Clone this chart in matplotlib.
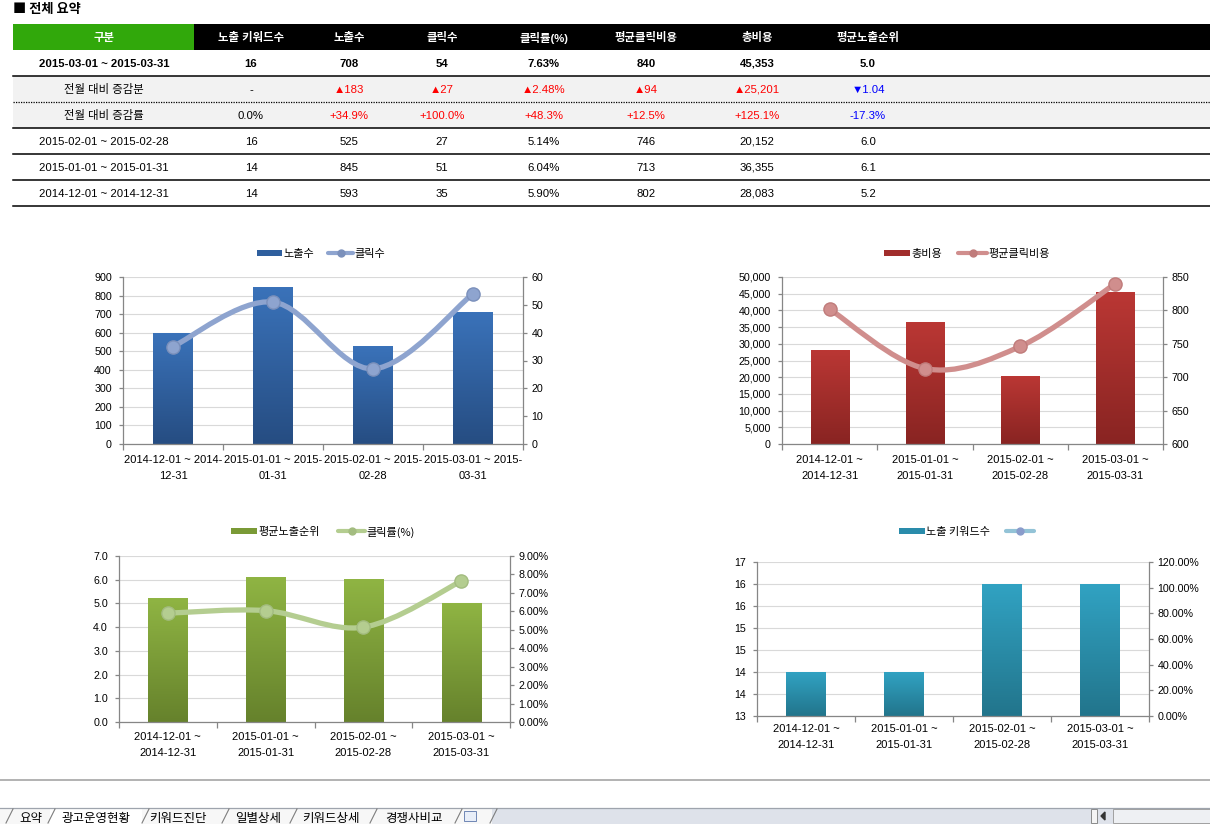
import numpy as np
import matplotlib
matplotlib.use('Agg')
import matplotlib.pyplot as plt
from matplotlib.patches import Rectangle, PathPatch, Polygon
from matplotlib.lines import Line2D
from matplotlib.path import Path
from matplotlib.colors import LinearSegmentedColormap
from matplotlib.ticker import FuncFormatter, MultipleLocator

W, H = 1210, 824
FONTS = ['Liberation Sans', 'Noto Sans CJK KR', 'DejaVu Sans']
plt.rcParams['font.family'] = FONTS

# data (chronological)
periods = ['2014-12-01 ~ 2014-12-31', '2015-01-01 ~ 2015-01-31',
           '2015-02-01 ~ 2015-02-28', '2015-03-01 ~ 2015-03-31']
keywords = [14, 14, 16, 16]
impressions = [593, 845, 525, 708]
clicks = [35, 51, 27, 54]
ctr = [5.90, 6.04, 5.14, 7.63]
cpc = [802, 713, 746, 840]
cost = [28083, 36355, 20152, 45353]
avg_rank = [5.2, 6.1, 6.0, 5.0]

headers = ['구분', '노출 키워드수', '노출수', '클릭수', '클릭률(%)', '평균클릭비용', '총비용', '평균노출순위']
diff_labels = ['-', '▲183', '▲27', '▲2.48%', '▲94', '▲25,201', '▼1.04']
rate_labels = ['0.0%', '+34.9%', '+100.0%', '+48.3%', '+12.5%', '+125.1%', '-17.3%']
diff_colors = ['black', 'red', 'red', 'red', 'red', 'red', 'blue']
sheet_tabs = ['요약', '광고운영현황', '키워드진단', '일별상세', '키워드상세', '경쟁사비교']

fig = plt.figure(figsize=(W / 100, H / 100), dpi=100)


def fx(x):
    return x / W


def fy(y):
    return 1 - y / H


def box(x0, y0, x1, y1, color, ec='none', lw=0.75):
    fig.add_artist(Rectangle((fx(x0), fy(y1)), fx(x1) - fx(x0), fy(y0) - fy(y1),
                             transform=fig.transFigure, facecolor=color, edgecolor=ec, lw=lw))


def hline(y, x0, x1, color, lw=0.75, ls='-'):
    fig.add_artist(Line2D([fx(x0), fx(x1)], [fy(y), fy(y)], transform=fig.transFigure,
                          color=color, lw=lw, ls=ls))


def txt(x, y, s, **kw):
    fig.text(fx(x), fy(y), s, va='center_baseline', **kw)


# ---------------- summary table ----------------
txt(13, 8, '■ 전체 요약', fontsize=9.5, fontweight='bold', family=['Noto Sans CJK KR', 'DejaVu Sans'])
box(13, 24, 1210, 50, 'black')
box(13, 24, 194, 50, '#31a80b')
col_x = [104, 251, 349, 442, 544, 646, 757, 868]
for x, h in zip(col_x, headers):
    txt(x, 37, h, ha='center', color='white', fontweight='bold', fontsize=8.2)


def row_values(i):
    return [periods[i], f'{keywords[i]}', f'{impressions[i]:,}', f'{clicks[i]}',
            f'{ctr[i]:.2f}%', f'{cpc[i]:,}', f'{cost[i]:,}', f'{avg_rank[i]:.1f}']


box(13, 76, 1210, 128, '#f2f2f2')
for x, v in zip(col_x, row_values(3)):
    txt(x, 63, v, ha='center', fontweight='bold', fontsize=8.2)
txt(col_x[0], 89, '전월 대비 증감분', ha='center', fontsize=8.2)
txt(col_x[0], 115, '전월 대비 증감률', ha='center', fontsize=8.2)
for x, v, c in zip(col_x[1:], diff_labels, diff_colors):
    txt(x, 89, v, ha='center', fontsize=8.2, color=c)
for x, v, c in zip(col_x[1:], rate_labels, diff_colors):
    txt(x, 115, v, ha='center', fontsize=8.2, color=c)
for y, i in zip([141, 167, 193], [2, 1, 0]):
    for x, v in zip(col_x, row_values(i)):
        txt(x, y, v, ha='center', fontsize=8.2)
for y in [76, 128, 154, 180, 206]:
    hline(y, 13, 1210, 'black', lw=1.1)
hline(102, 13, 1210, 'black', lw=0.9, ls=(0, (1, 1)))


# ---------------- charts ----------------
def smooth_path(xs, ys):
    pts = np.column_stack([xs, ys]).astype(float)
    n = len(pts)
    verts = [pts[0]]
    codes = [Path.MOVETO]
    for i in range(n - 1):
        p0 = pts[i - 1] if i > 0 else pts[i]
        p1, p2 = pts[i], pts[i + 1]
        p3 = pts[i + 2] if i + 2 < n else pts[i + 1]
        verts += [p1 + (p2 - p0) / 6, p2 - (p3 - p1) / 6, p2]
        codes += [Path.CURVE4] * 3
    return Path(verts, codes)


def combo(area, xlabels, bars, bar_cols, left_lim, left_step, left_fmt,
          line_vals, line_col, mk_col, right_lim, right_step, right_fmt, xpad):
    l, t, r, b = area
    ax = fig.add_axes([fx(l), fy(b), fx(r) - fx(l), fy(t) - fy(b)])
    n = len(bars)
    x = np.arange(n)
    rects = ax.bar(x, bars, width=0.4, color=bar_cols[1], zorder=2)
    cmap = LinearSegmentedColormap.from_list('g', [bar_cols[1], bar_cols[0]])
    lo, hi = left_lim
    for rc in rects:
        y0 = max(rc.get_y(), lo)
        y1 = rc.get_y() + rc.get_height()
        ax.imshow(np.linspace(0, 1, 64).reshape(-1, 1),
                  extent=[rc.get_x(), rc.get_x() + rc.get_width(), y0, y1],
                  origin='lower', aspect='auto', cmap=cmap, zorder=2.5)
    ax.set_xlim(-0.5, n - 0.5)
    ax.set_ylim(lo, hi)
    ax.yaxis.set_major_locator(MultipleLocator(left_step))
    ax.yaxis.set_major_formatter(FuncFormatter(left_fmt))
    ax.grid(axis='y', color='#d9d9d9', lw=0.8)
    ax.set_axisbelow(True)
    for s in ['top', 'right']:
        ax.spines[s].set_visible(False)
    for s in ['left', 'bottom']:
        ax.spines[s].set_color('#868686')
        ax.spines[s].set_linewidth(0.9)
    ax.set_xticks(np.arange(-0.5, n, 1.0))
    ax.set_xticklabels([])
    ax.set_xticks(x, minor=True)
    ax.set_xticklabels(xlabels, minor=True, fontsize=8, linespacing=1.75)
    ax.tick_params(axis='x', which='major', length=4, color='#868686', width=0.9)
    ax.tick_params(axis='x', which='minor', length=0, pad=xpad)
    ax.tick_params(axis='y', length=3, color='#868686', width=0.9, labelsize=7.7, pad=5)

    ax2 = ax.twinx()
    ax2.set_ylim(right_lim)
    ax2.yaxis.set_major_locator(MultipleLocator(right_step))
    ax2.yaxis.set_major_formatter(FuncFormatter(right_fmt))
    for s in ['top', 'left', 'bottom']:
        ax2.spines[s].set_visible(False)
    ax2.spines['right'].set_color('#868686')
    ax2.spines['right'].set_linewidth(0.9)
    ax2.tick_params(axis='y', length=3, color='#868686', width=0.9, labelsize=7.7, pad=3)
    if line_vals is not None:
        ax2.add_patch(PathPatch(smooth_path(x, line_vals), fill=False, edgecolor=line_col,
                                lw=3.8, capstyle='round', zorder=3))
        ax2.plot(x, line_vals, 'o', ms=9.5, mfc=line_col, mec=mk_col, mew=1.0, zorder=4)
    return ax, ax2


def legend(y, sw, bar_col, label1, lx, line_col, mk_col, label2):
    box(sw[0], y - 3, sw[1], y + 3, bar_col)
    txt(sw[1] + 1, y, label1, fontsize=8, family=['Noto Sans CJK KR', 'DejaVu Sans'])
    fig.add_artist(Line2D([fx(lx[0]), fx(lx[1])], [fy(y), fy(y)], transform=fig.transFigure,
                          color=line_col, lw=3, solid_capstyle='round'))
    fig.add_artist(Line2D([fx((lx[0] + lx[1]) / 2)], [fy(y)], transform=fig.transFigure,
                          marker='o', ms=5, mfc=mk_col, mec=mk_col))
    if label2:
        txt(lx[1] + 1, y, label2, fontsize=8, family=['Noto Sans CJK KR', 'DejaVu Sans'])


labels_wrap1 = [p[:18] + '\n' + p[18:] for p in periods]
labels_wrap2 = [p[:12] + '\n' + p[13:] for p in periods]

# chart 1: impressions / clicks
combo((123, 277, 523, 444), labels_wrap1, impressions, ('#3a72b9', '#264d82'),
      (0, 900), 100, lambda v, p: f'{v:.0f}',
      clicks, '#8ea4cf', '#7b90bb', (0, 60), 10, lambda v, p: f'{v:.0f}', 8)
legend(253, (257, 282), '#2f5f9e', '노출수', (328, 353), '#8ea4cf', '#7b90bb', '클릭수')

# chart 2: cost / cpc
combo((782, 277, 1163, 444), labels_wrap2, cost, ('#ba3734', '#892422'),
      (0, 50000), 5000, lambda v, p: f'{v:,.0f}',
      cpc, '#d08e8d', '#c07c7b', (600, 850), 50, lambda v, p: f'{v:.0f}', 8)
legend(253, (884, 910), '#a12e2c', '총비용', (958, 987), '#d08e8d', '#c07c7b', '평균클릭비용')

# chart 3: avg rank / ctr
combo((119, 556, 510, 722), labels_wrap2, avg_rank, ('#8fb443', '#66822c'),
      (0, 7), 1, lambda v, p: f'{v:.1f}',
      [c / 100 for c in ctr], '#b4cd90', '#a3bc80', (0, 0.09), 0.01, lambda v, p: f'{v:.2%}', 7)
legend(531, (231, 257), '#7a9a36', '평균노출순위', (338, 365), '#b4cd90', '#a3bc80', '클릭률(%)')

# chart 4: keyword count
combo((757, 562, 1149, 716), labels_wrap2, keywords, ('#31a2c2', '#22758c'),
      (13, 16.5), 0.5, lambda v, p: f'{int(np.floor(v + 0.5))}',
      None, None, None, (0, 1.2), 0.2, lambda v, p: f'{v:.2%}', 6)
legend(531, (899, 925), '#2a8cab', '노출 키워드수', (1006, 1034), '#93c3d7', '#8a9ccb', '')

# ---------------- sheet tab bar ----------------
hline(780, 0, 1210, '#a6a6a6', lw=1.2)
box(0, 808, 1210, 824, '#dee2ea')
box(0, 808, 492, 824, '#f7f7f7')
box(50, 808, 142, 824, 'white')
hline(808, 0, 1210, '#9ea4ad', lw=0.9)
tab_x = [31, 96, 178, 258, 331, 414]
for x, s in zip(tab_x, sheet_tabs):
    txt(x, 817, s, ha='center', fontsize=9, family=['Noto Sans CJK KR', 'DejaVu Sans'])
for xb in [6, 48, 142, 222, 290, 370, 455, 490]:
    fig.add_artist(Line2D([fx(xb), fx(xb + 7)], [fy(823), fy(809)], transform=fig.transFigure,
                          color='#7d7d7d', lw=0.8))
box(464, 811, 476, 821, '#e8eef8', ec='#6f86b4', lw=0.7)
box(1091, 809, 1097, 823, '#f4f4f4', ec='#8a8a8a', lw=0.7)
fig.add_artist(Polygon([[fx(1101), fy(816)], [fx(1105), fy(812)], [fx(1105), fy(820)]],
                       closed=True, transform=fig.transFigure, color='#333333'))
box(1113, 809, 1210, 823, '#eef0f3', ec='#a0a0a0', lw=0.7)

fig.savefig('out.png', dpi=100)
